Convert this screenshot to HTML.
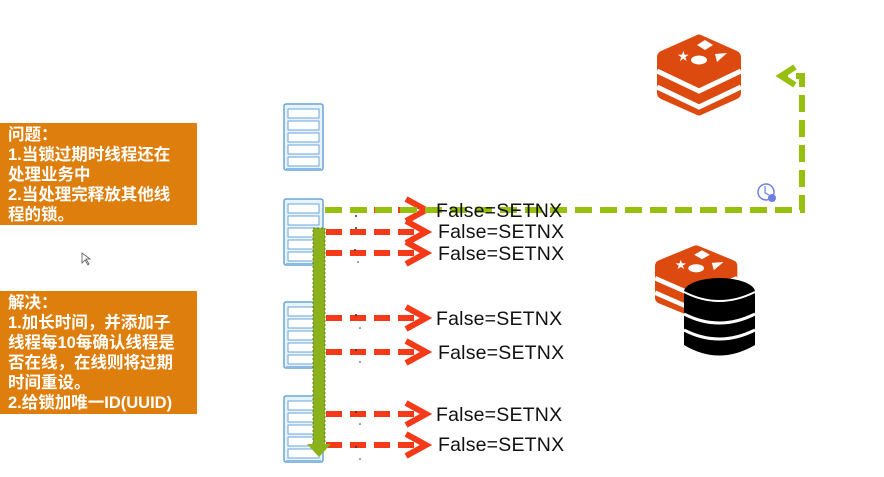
<!DOCTYPE html>
<html><head><meta charset="utf-8"><style>
body{margin:0;width:884px;height:477px;background:#fff;overflow:hidden;position:relative;font-family:"Liberation Sans","Noto Sans CJK SC",sans-serif}
.box{position:absolute;left:0;width:197px;background:#de7e0c;color:#fff;font-weight:bold;font-size:16.5px;line-height:20px;padding:2px 0 0 8px;box-sizing:border-box;font-family:"Liberation Sans","Noto Sans CJK SC",sans-serif;white-space:nowrap}
.t{position:absolute;font-size:19.5px;color:#111;font-family:"Liberation Sans","Noto Sans CJK SC",sans-serif;line-height:22px;letter-spacing:0.2px}
</style></head><body>
<div class="box" style="top:123px;height:102px">问题：<br>1.当锁过期时线程还在<br>处理业务中<br>2.当处理完释放其他线<br>程的锁。</div>
<div class="box" style="top:291px;height:123px">解决：<br>1.加长时间，并添加子<br>线程每10每确认线程是<br>否在线，在线则将过期<br>时间重设。<br>2.给锁加唯一ID(UUID)</div>
<svg width="884" height="477" style="position:absolute;left:0;top:0">
<defs>
<g id="srv">
<rect x="0" y="0" width="39" height="66" rx="2" fill="#e9f3fb" stroke="#6aa6d8" stroke-width="1.5"/>
<rect x="4" y="5" width="31" height="9" fill="#fff" stroke="#6aa6d8"/>
<rect x="4" y="17" width="31" height="9" fill="#fff" stroke="#6aa6d8"/>
<rect x="4" y="29" width="31" height="9" fill="#fff" stroke="#6aa6d8"/>
<rect x="4" y="41" width="31" height="9" fill="#fff" stroke="#6aa6d8"/>
<rect x="4" y="53" width="31" height="9" fill="#fff" stroke="#6aa6d8"/>
<rect x="2" y="64" width="35" height="3" fill="#8bbbe3"/>
</g>
<g id="redis">
<path d="M4,18 L40,2 Q42,1 44,2 L80,18 Q84,20 84,24 L84,60 Q84,64 80,66 L44,82 Q42,83 40,82 L4,66 Q0,64 0,60 L0,24 Q0,20 4,18Z" fill="#dd4a0f"/>
<polyline points="0,38 42,58 84,38" fill="none" stroke="#fff" stroke-width="5"/>
<polyline points="0,54 42,74 84,54" fill="none" stroke="#fff" stroke-width="5"/>
<polygon points="48,7 56,12 48,17 40,12" fill="#fff"/>
<ellipse cx="42" cy="27" rx="8" ry="4.5" fill="#fff"/>
<polygon points="58,21 70,20 60,29" fill="#fff"/>
<text x="20" y="28" font-size="14" fill="#fff" font-family="DejaVu Sans">★</text>
</g>
<g id="ra">
<line x1="0" y1="0" x2="90" y2="0" stroke="#f53a1a" stroke-width="6" stroke-dasharray="16,8"/>
<polyline points="80,-11 100,0 80,11" fill="none" stroke="#f53a1a" stroke-width="6" stroke-linejoin="miter"/>
</g>
</defs>
<use href="#srv" x="284" y="104"/>
<use href="#srv" x="284" y="199"/>
<use href="#srv" x="284" y="302"/>
<use href="#srv" x="284" y="396"/>
<use href="#ra" x="326" y="210"/>
<use href="#ra" x="326" y="232"/>
<use href="#ra" x="326" y="253"/>
<use href="#ra" x="326" y="318"/>
<use href="#ra" x="326" y="352"/>
<use href="#ra" x="326" y="414"/>
<use href="#ra" x="326" y="445"/>
<g fill="#333">
<circle cx="356" cy="216" r="1"/><circle cx="356" cy="228" r="1"/><circle cx="355" cy="250" r="1"/><circle cx="358" cy="262" r="0.8"/>
<circle cx="356" cy="315" r="1"/><circle cx="360" cy="328" r="0.8"/><circle cx="356" cy="350" r="1"/><circle cx="360" cy="362" r="0.8"/>
<circle cx="356" cy="412" r="1"/><circle cx="360" cy="424" r="0.8"/><circle cx="356" cy="447" r="1"/><circle cx="360" cy="459" r="0.8"/>
</g>
<rect x="313" y="228" width="12" height="218" fill="#8bb21a" stroke="#556b10" stroke-width="0.8" stroke-dasharray="2,2"/>
<polygon points="307,444 331,444 319,457" fill="#8bb21a"/>
<polyline points="325,210 802,210 802,76 786,76" fill="none" stroke="#97bf0d" stroke-width="6" stroke-dasharray="17,8"/>
<polyline points="795,67 781,76 795,85" fill="none" stroke="#97bf0d" stroke-width="6"/>
<circle cx="766" cy="192" r="8" fill="#fff" stroke="#6c7fe0" stroke-width="1.5"/>
<polyline points="765,186 765,193 769,195" fill="none" stroke="#6c7fe0" stroke-width="1.2"/>
<circle cx="772" cy="198" r="4" fill="#6c7fe0"/>
<use href="#redis" x="657" y="33"/>
<use href="#redis" x="655" y="244" transform="translate(655,244) scale(0.98,0.9) translate(-655,-244)"/>
<g>
<path d="M684,292 L684,345 Q719,366 755,345 L755,292Z" fill="#000"/>
<ellipse cx="719.5" cy="292" rx="35.5" ry="14" fill="#000"/>
<path d="M684,314 Q719,332 755,314" fill="none" stroke="#fff" stroke-width="3"/>
<path d="M684,330 Q719,348 755,330" fill="none" stroke="#fff" stroke-width="3"/>
<path d="M684,292 Q719,310 755,292" fill="none" stroke="#fff" stroke-width="2"/>
</g>
<polygon points="82,253 82,263 85,260 88,265 89,264 86,259 90,259" fill="#fff" stroke="#555" stroke-width="0.8"/>
</svg>
<div class="t" style="left:436px;top:200px">False=SETNX</div>
<div class="t" style="left:438px;top:221px">False=SETNX</div>
<div class="t" style="left:438px;top:243px">False=SETNX</div>
<div class="t" style="left:436px;top:308px">False=SETNX</div>
<div class="t" style="left:438px;top:342px">False=SETNX</div>
<div class="t" style="left:436px;top:404px">False=SETNX</div>
<div class="t" style="left:438px;top:434px">False=SETNX</div>
</body></html>
